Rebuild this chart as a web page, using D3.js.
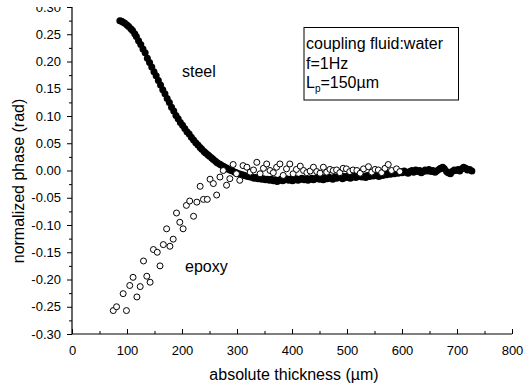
<!DOCTYPE html>
<html>
<head>
<meta charset="utf-8">
<script src="https://cdn.jsdelivr.net/npm/d3@7"></script>
<style>
  body { margin: 0; background: #fff; }
  svg { display: block; font-family: "Liberation Sans", Arial, sans-serif; }
</style>
</head>
<body>
<svg id="chart" width="526" height="389"></svg>
<script>
// data: [thickness (um), normalized phase (rad)]
const steel = [
  [87,.275],[90,.274],[93,.272],[96,.270],[100,.267],[103,.264],[107,.260],[110,.257],
  [114,.251],[117,.246],[121,.238],[125,.231],[129,.223],[133,.216],[137,.206],[141,.198],
  [145,.190],[149,.181],[153,.174],[157,.165],[161,.157],[165,.148],[169,.141],[173,.132],
  [177,.125],[181,.116],[185,.109],[189,.101],[193,.095],[197,.088],[201,.083],[205,.077],
  [209,.071],[213,.067],[217,.061],[221,.056],[225,.051],[229,.047],[233,.042],[236,.039],
  [240,.035],[243,.032],[247,.029],[250,.026],
  [254,.023],[257,.020],[261,.017],[264,.014],[268,.012],[271,.010],[275,.008],[278,.006],
  [282,.004],[285,.002],[289,.000],[292,-.001],[296,-.003],[299,-.004],[303,-.006],[306,-.007],
  [310,-.008],[313,-.009],[317,-.010],[320,-.011],[324,-.012],[327,-.012],[331,-.014],[334,-.013],
  [338,-.015],[341,-.014],[345,-.016],[348,-.015],[352,-.017],[355,-.016],[359,-.018],[362,-.016],
  [366,-.019],[369,-.017],[373,-.020],[376,-.018],[380,-.016],[383,-.019],[387,-.017],[390,-.015],
  [394,-.018],[397,-.016],[401,-.019],[404,-.017],[408,-.015],[411,-.018],[415,-.016],[418,-.014],
  [422,-.017],[425,-.015],[429,-.018],[432,-.016],[436,-.014],[439,-.017],[443,-.015],[446,-.013],
  [450,-.016],[453,-.014],[457,-.017],[460,-.013],[464,-.015],[467,-.012],[471,-.014],[474,-.016],
  [478,-.012],[481,-.014],[485,-.011],[488,-.013],[492,-.015],[495,-.011],[499,-.013],[502,-.010],
  [506,-.014],[509,-.012],[513,-.010],[516,-.013],[520,-.011],[523,-.009],[527,-.012],[530,-.010],
  [534,-.013],[537,-.009],[541,-.011],[544,-.008],[548,-.010],[551,-.007],[555,-.009],[558,-.011],
  [562,-.007],[565,-.009],[569,-.006],[572,-.008],[576,-.005],[579,-.007],[583,-.004],[586,-.006],
  [590,-.003],[593,-.005],[597,-.002],[600,-.004],[604,-.001],[607,-.003],[611,-.005],[614,-.002],
  [618,.000],[621,-.003],[625,.001],[628,-.002],[632,.000],[635,-.004],[639,-.002],[642,.001],
  [646,-.001],[649,.002],[653,-.002],[656,.000],[660,-.003],[663,-.001],[667,.002],[670,.004],
  [674,.006],[677,.003],[681,-.002],[684,-.004],[688,-.006],[691,-.002],[695,.001],[698,.000],
  [702,.002],[705,-.001],[709,.003],[712,.006],[716,.004],[719,.001],[723,.002],[727,-.001]
];

const epoxy = [
  [75,-.257],[81,-.250],[99,-.257],[93,-.226],[105,-.211],[111,-.196],[118,-.232],[124,-.213],
  [130,-.166],[136,-.194],[142,-.205],[148,-.145],[155,-.150],[160,-.175],[166,-.136],[172,-.107],
  [178,-.139],[184,-.126],[190,-.078],[196,-.095],[202,-.107],[208,-.064],[214,-.056],[221,-.084],
  [227,-.058],[233,-.029],[239,-.053],[246,-.053],[251,-.016],[257,-.024],[263,-.045],[269,-.012],
  [275,.000],[281,-.027],[287,-.015],[293,.011],[299,-.006],[305,-.018],[311,.009],[318,.006],
  [324,-.003],[330,.001],[336,.015],[342,-.006],[348,.004],[354,.012],[360,.000],[366,-.004],
  [372,.006],[378,.012],[384,-.009],[390,.003],[396,.012],[402,-.006],[408,.002],[415,.008],
  [421,.000],[427,-.004],[433,-.001],[439,.006],[445,-.002],[451,-.005],[457,.006],[463,-.003],
  [469,.002],[475,.000],[481,.001],[487,-.004],[493,.004],[499,.003],[505,-.002],[511,.001],
  [518,.000],[524,-.005],[530,.003],[539,.007],[545,-.003],[551,.002],[557,.001],[563,-.004],
  [569,.004],[575,.011],[581,.000],[590,.003],[596,-.002]
];

const xTicks = [0, 100, 200, 300, 400, 500, 600, 700, 800];
const xMinorTicks = [50, 150, 250, 350, 450, 550, 650, 750];
const yTicks = [-0.30, -0.25, -0.20, -0.15, -0.10, -0.05, 0.00, 0.05, 0.10, 0.15, 0.20, 0.25, 0.30];
const yMinorTicks = [-0.275, -0.225, -0.175, -0.125, -0.075, -0.025, 0.025, 0.075, 0.125, 0.175, 0.225, 0.275];
const noteLines = ["coupling fluid:water", "f=1Hz"];

// layout
const margin = { left: 72, right: 512, top: 7, bottom: 334 };

const svg = d3.select("#chart");
svg.append("defs").append("clipPath").attr("id", "pageclip")
  .append("rect").attr("x", 0).attr("y", 7).attr("width", 526).attr("height", 389);
const root = svg.append("g").attr("clip-path", "url(#pageclip)");

const x = d3.scaleLinear().domain([0, 800]).range([margin.left, margin.right]);
const y = d3.scaleLinear().domain([-0.30, 0.30]).range([margin.bottom, margin.top]);

// y axis, ticks outside
const yAxisG = root.append("g").attr("transform", `translate(${margin.left},0)`)
  .call(d3.axisLeft(y).tickValues(yTicks).tickSize(5).tickPadding(6)
    .tickFormat(v => (Math.abs(v) < 1e-9 ? 0 : v).toFixed(2)));
root.append("g").attr("transform", `translate(${margin.left},0)`)
  .call(d3.axisLeft(y).tickValues(yMinorTicks).tickSize(3).tickFormat(""))
  .select(".domain").remove();

// x axis, ticks inside
const xAxisG = root.append("g").attr("transform", `translate(0,${margin.bottom})`)
  .call(d3.axisBottom(x).tickValues(xTicks).tickSize(-5).tickPadding(12).tickFormat(d3.format("d")));
root.append("g").attr("transform", `translate(0,${margin.bottom})`)
  .call(d3.axisBottom(x).tickValues(xMinorTicks).tickSize(-3).tickFormat(""))
  .select(".domain").remove();

root.selectAll(".domain").attr("stroke", "#000").attr("stroke-width", 1.2);
root.selectAll(".tick line").attr("stroke", "#000");
root.selectAll(".tick text").attr("fill", "#000").style("font-size", "13px")
  .style("font-family", "'Liberation Sans', Arial, sans-serif");
// keep the axis lines flat, no outer ticks
yAxisG.select(".domain").attr("d", `M0,${margin.bottom}V${margin.top}`);
xAxisG.select(".domain").attr("d", `M${margin.left},0H${margin.right}`);

// series
root.append("g").selectAll("circle").data(steel).join("circle")
  .attr("cx", d => x(d[0])).attr("cy", d => y(d[1])).attr("r", 3.5)
  .attr("fill", "#000");
root.append("g").selectAll("circle").data(epoxy).join("circle")
  .attr("cx", d => x(d[0])).attr("cy", d => y(d[1])).attr("r", 3)
  .attr("fill", "#fff").attr("stroke", "#000").attr("stroke-width", 1);

// labels
const txt = (sel) => sel.attr("fill", "#000").style("font-size", "16px");
root.append("text").attr("x", 182).attr("y", 77).text("steel").call(txt);
root.append("text").attr("x", 185).attr("y", 272).text("epoxy").call(txt);

// note box
root.append("rect").attr("x", 304).attr("y", 27.5).attr("width", 154.5).attr("height", 72.5)
  .attr("fill", "none").attr("stroke", "#000").attr("stroke-width", 1);
noteLines.forEach((s, i) => {
  root.append("text").attr("x", 306).attr("y", 49 + i * 19.5).text(s).call(txt);
});
const lp = root.append("text").attr("x", 306).attr("y", 88).call(txt);
lp.append("tspan").text("L");
lp.append("tspan").attr("dy", 4).style("font-size", "10px").text("p");
lp.append("tspan").attr("dy", -4).text("=150\u00b5m");

// axis titles
root.append("text").attr("x", 294).attr("y", 380).attr("text-anchor", "middle")
  .text("absolute thickness (\u00b5m)").call(txt);
root.append("text").attr("transform", "translate(24,181) rotate(-90)")
  .attr("text-anchor", "middle").text("normalized phase (rad)").call(txt);
</script>
</body>
</html>
